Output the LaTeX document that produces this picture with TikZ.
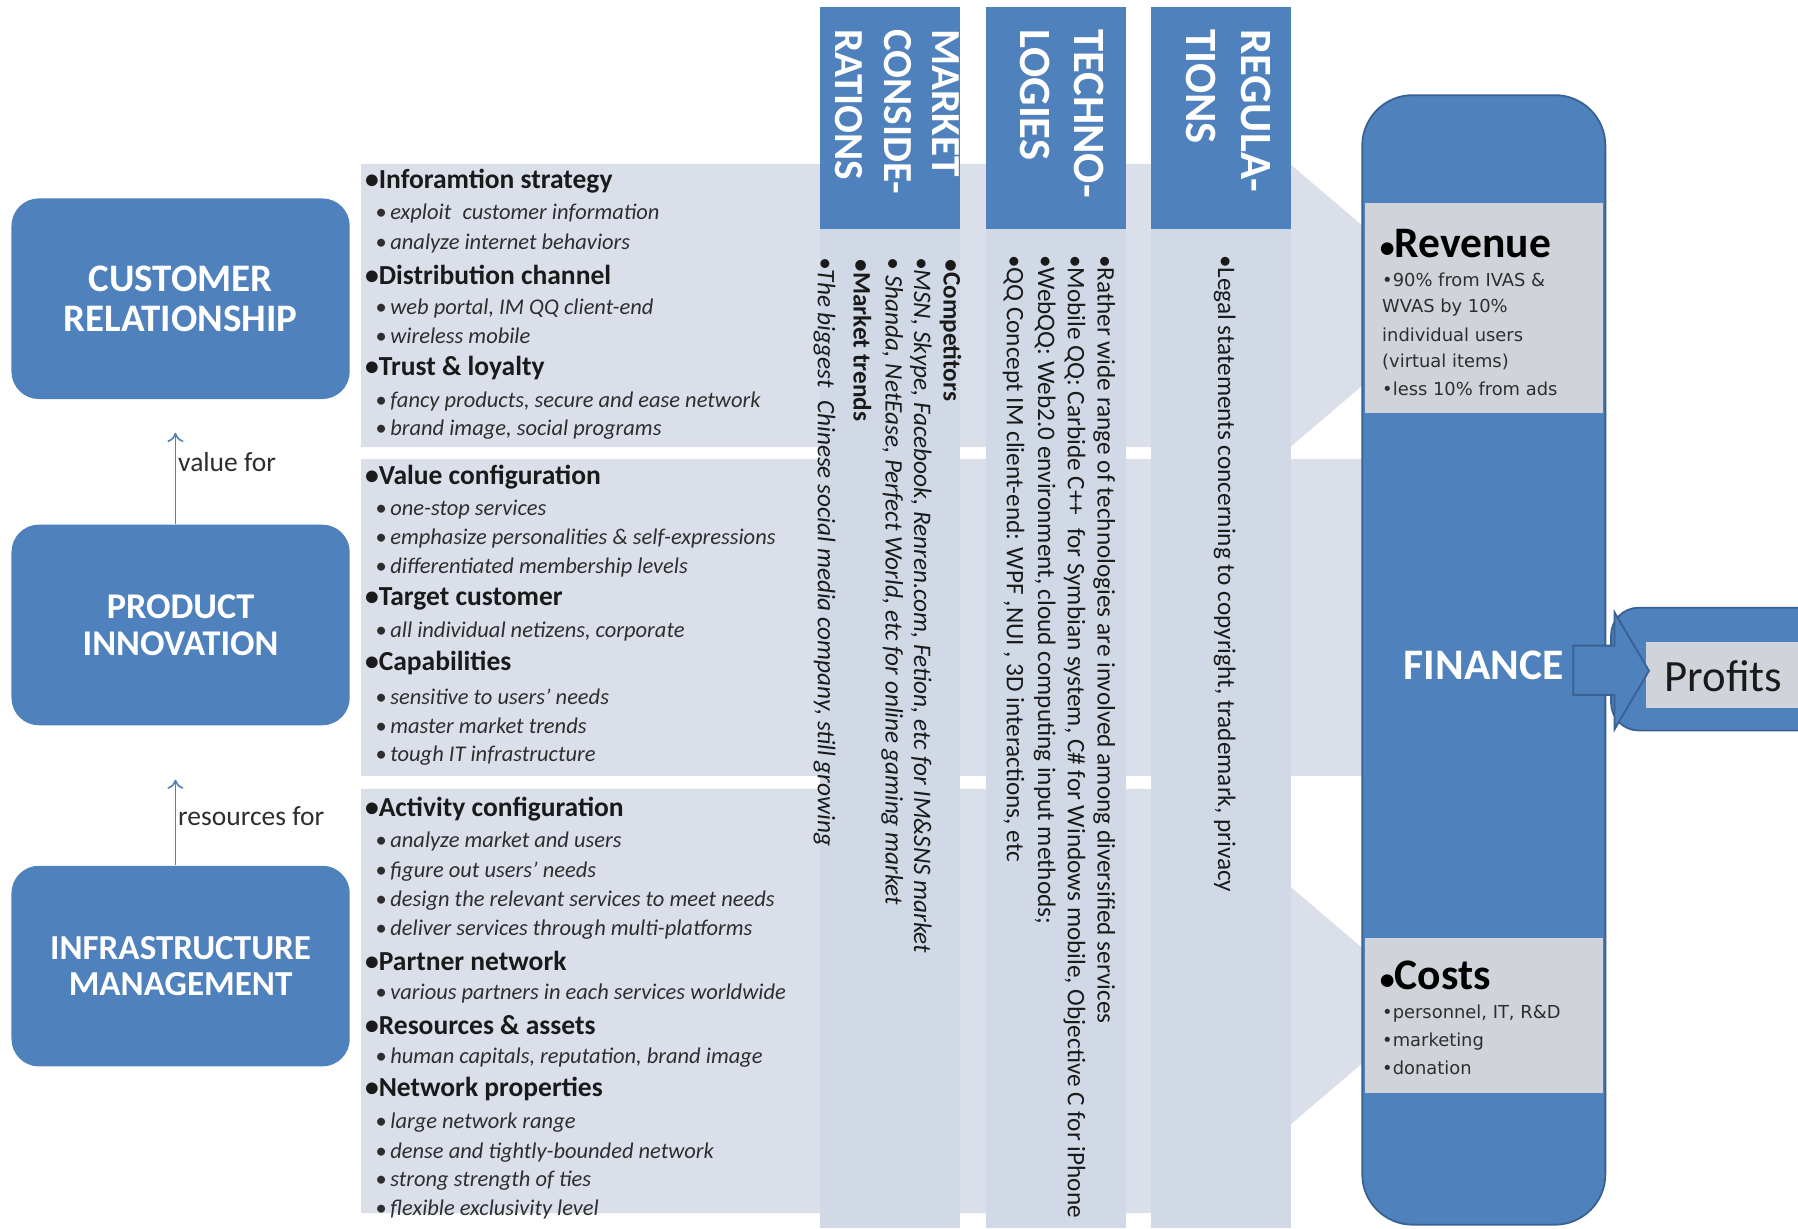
\documentclass[tikz,border=0pt]{standalone}
\usepackage{fontspec}
\setmainfont{Carlito}
\newfontfamily\dvsans{DejaVu Sans}
\usetikzlibrary{arrows.meta}
\definecolor{qblue}{HTML}{4F81BD}
\definecolor{qdark}{HTML}{3A6194}
\definecolor{rowbg}{HTML}{DADFEA}
\definecolor{colbg}{HTML}{D2D9E6}
\definecolor{greybox}{HTML}{D0D3D9}
\definecolor{txt}{HTML}{1A1A1A}
\definecolor{subtxt}{HTML}{2E2E2E}
\begin{document}
\begin{tikzpicture}[x=0.5pt,y=-0.5pt,
  lbox/.style={fill=qblue, rounded corners=12pt, minimum width=147.5pt, minimum height=87.5pt, inner sep=0pt, text=white, align=center, font=\fontsize{17}{17.5}\selectfont\bfseries},
  hdrbox/.style={fill=qblue, minimum width=61pt, minimum height=97pt, inner sep=0pt},
  hdrtxt/.style={rotate=-90, anchor=west, inner sep=0pt, text=white, font=\fontsize{19.5}{20}\selectfont\bfseries},
  hdrsmall/.style={hdrtxt, font=\fontsize{18}{18}\selectfont\bfseries},
  coltxt/.style={rotate=-90, anchor=west, inner sep=0pt, text=txt, font=\fontsize{11}{12}\selectfont},
  colit/.style={coltxt, font=\fontsize{11}{12}\selectfont\itshape},
  colbf/.style={coltxt, font=\fontsize{11}{12}\selectfont\bfseries},
  rowh/.style={anchor=west, inner sep=0pt, text=txt, font=\fontsize{12}{13}\selectfont\bfseries},
  rowi/.style={anchor=west, inner sep=0pt, text=subtxt, font=\fontsize{9.8}{10}\selectfont\itshape},
  conn/.style={draw=qblue, line width=0.7pt, -{To[length=4pt,width=7pt]}},
  lbl/.style={anchor=west, inner sep=0pt, text=subtxt, font=\fontsize{12}{13}\selectfont},
  fintitle/.style={anchor=west, inner sep=0pt, text=black, font=\fontsize{19}{20}\selectfont\bfseries},
  finsub/.style={anchor=west, inner sep=0pt, text=subtxt, font=\dvsans\fontsize{7.8}{8}\selectfont}
]
\useasboundingbox (0,0) rectangle (1568,1071);
\clip (0,0) rectangle (1568,1071);
\fill[white] (0,0) rectangle (1568,1071);

% background rows (arrows)
\fill[rowbg] (315,143) -- (1125,143) -- (1270,266.5) -- (1125,390) -- (315,390) -- cycle;
\fill[rowbg] (315,400) rectangle (1260,677);
\fill[rowbg] (315,688) -- (1125,688) -- (1125,773) -- (1247,877) -- (1125,981) -- (1125,1058) -- (315,1058) -- cycle;

% columns
\fill[colbg] (715,198) rectangle (837,1071);
\fill[colbg] (860,198) rectangle (982,1071);
\fill[colbg] (1004,198) rectangle (1126,1071);

% column headers
\node[hdrbox] (hm) at (776,103) {};
\node[hdrbox] (ht) at (921,103) {};
\node[hdrbox] (hr) at (1065,103) {};
\node[hdrsmall] (hm1) at (825,25) {MARKET};
\node[hdrsmall] (hm2) at (783,25) {CONSIDE-};
\node[hdrsmall] (hm3) at (740,25) {RATIONS};
\node[hdrtxt] (ht1) at (950,25) {TECHNO-};
\node[hdrtxt] (ht2) at (903,25) {LOGIES};
\node[hdrtxt] (hr1) at (1095,25) {REGULA-};
\node[hdrtxt] (hr2) at (1047,25) {TIONS};

% column texts
\node[colbf] (cm1) at (829,226) {•Competitors};
\node[colit] (cm2) at (803,224) {•MSN, Skype, Facebook, Renren.com, Fetion, etc for IM\&SNS market};
\node[colit] (cm3) at (778,224) {• Shanda, NetEase, Perfect World, etc for online gaming market};
\node[colbf] (cm4) at (752,226) {•Market trends};
\node[colit] (cm5) at (719,224) {•The biggest\enspace Chinese social media company, still growing};
\node[coltxt] (ct1) at (963,222) {•Rather wide range of technologies are involved among diversified services};
\node[coltxt] (ct2) at (937,222) {•Mobile QQ: Carbide C++\enspace for Symbian system, C\# for Windows mobile, Objective C for iPhone};
\node[coltxt] (ct3) at (911,222) {•WebQQ: Web2.0 environment, cloud computing input methods;};
\node[coltxt] (ct4) at (884,222) {•QQ Concept IM client-end: WPF ,NUI , 3D interactions, etc};
\node[coltxt] (cr1) at (1068,222) {•Legal statements concerning to copyright, trademark, privacy};

% row headings
\foreach \yy/\s [count=\i] in {158/{Inforamtion strategy}, 240/{Distribution channel}, 321/{Trust \& loyalty}, 416/{Value configuration}, 522/{Target customer}, 578/{Capabilities}, 706/{Activity configuration}, 838/{Partner network}, 894/{Resources \& assets}, 950/{Network properties}}
  \node[rowh] (rh\i) at (318,\yy) {•\s};
% row items
\foreach \yy/\s [count=\i] in {186/{exploit\enspace customer information}, 212/{analyze internet behaviors}, 269/{web portal, IM QQ client-end}, 293/{wireless mobile}, 350/{fancy products, secure and ease network}, 375/{brand image, social programs}, 444/{one-stop services}, 470/{emphasize personalities \& self-expressions}, 495/{differentiated membership levels}, 551/{all individual netizens, corporate}, 608/{sensitive to users’ needs}, 633/{master market trends}, 659/{tough IT infrastructure}, 734/{analyze market and users}, 760/{figure out users’ needs}, 785/{design the relevant services to meet needs}, 811/{deliver services through multi-platforms}, 866/{various partners in each services worldwide}, 922/{human capitals, reputation, brand image}, 979/{large network range}, 1005/{dense and tightly-bounded network}, 1030/{strong strength of ties}, 1055/{flexible exclusivity level}}
  \node[rowi] (ri\i) at (327,\yy) {•\,\s};

% left boxes
\node[lbox] (cust) at (157.5,260.5) {CUSTOMER\\RELATIONSHIP};
\node[lbox, font=\fontsize{15.8}{16}\selectfont\bfseries] (prod) at (157.5,545) {PRODUCT\\INNOVATION};
\node[lbox, font=\fontsize{15.3}{16}\selectfont\bfseries] (infra) at (157.5,842.5) {INFRASTRUCTURE\\MANAGEMENT};
\draw[conn, shorten >=14.5pt] ([xshift=-2.25pt]prod.north) -- ([xshift=-2.25pt]cust.south);
\draw[conn, shorten >=23.5pt] ([xshift=-2.25pt]infra.north) -- ([xshift=-2.25pt]prod.south);
\node[lbl] (vf) at (155,403) {value for};
\node[lbl] (rf) at (155,712) {resources for};

% profits
\node[draw=qdark, fill=qblue, line width=0.8pt, rounded corners=12pt, minimum width=107.5pt, minimum height=53.5pt, inner sep=0pt] (prof) at (1512.5,583.5) {};
\node[fill=greybox, minimum width=92.5pt, minimum height=28.5pt, inner sep=0pt] (profin) at (1527.5,588.5) {};
\node[inner sep=0pt, text=txt, font=\fontsize{19.5}{20}\selectfont] (proft) at (1503,590) {Profits};

% finance
\node[draw=qdark, fill=qblue, line width=0.8pt, rounded corners=22pt, minimum width=106pt, minimum height=492.5pt, inner sep=0pt] (fin) at (1294,575.5) {};
\node[fill=greybox, minimum width=104pt, minimum height=91.5pt, inner sep=0pt] (rev) at (1294,268.5) {};
\node[fill=greybox, minimum width=104pt, minimum height=67.5pt, inner sep=0pt] (cost) at (1294,885.5) {};
\node[inner sep=0pt, text=white, font=\fontsize{19}{20}\selectfont\bfseries] (fint) at (1294,580) {FINANCE};
\filldraw[fill=qblue, draw=qdark, line width=0.8pt] (1372,563) -- (1408,563) -- (1408,534) -- (1438,585) -- (1408,636) -- (1408,606) -- (1372,606) -- cycle;

\node[fintitle] (revh) at (1203,212) {{\fontsize{13}{13}\selectfont•}Revenue};
\node[finsub] (rv1) at (1205,244) {•90\% from IVAS \&};
\node[finsub] (rv2) at (1205,268) {WVAS by 10\%};
\node[finsub] (rv3) at (1205,292) {individual users};
\node[finsub] (rv4) at (1205,316) {(virtual items)};
\node[finsub] (rv5) at (1205,339) {•less 10\% from ads};
\node[fintitle] (costh) at (1203,851) {{\fontsize{13}{13}\selectfont•}Costs};
\node[finsub] (cs1) at (1205,884) {•personnel, IT, R\&D};
\node[finsub] (cs2) at (1205,908) {•marketing};
\node[finsub] (cs3) at (1205,931) {•donation};
\end{tikzpicture}
\end{document}
